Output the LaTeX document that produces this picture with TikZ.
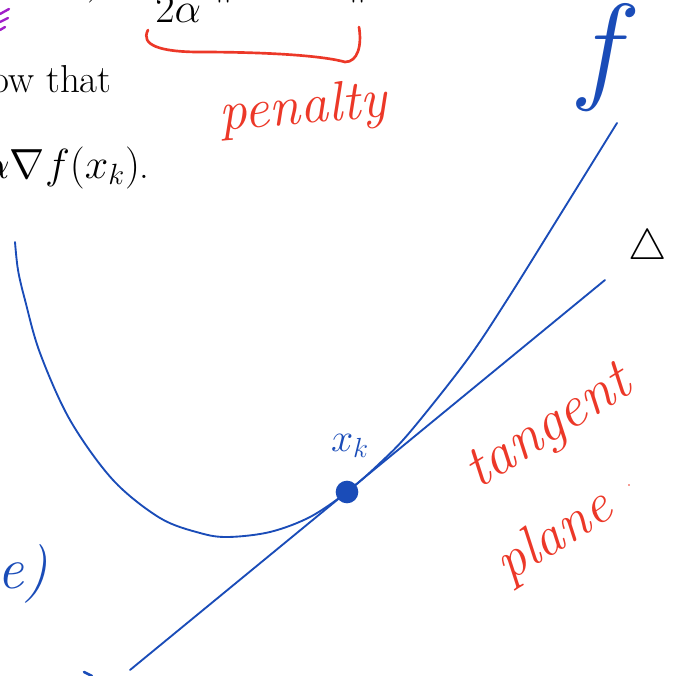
\documentclass[tikz,border=0pt]{standalone}
\usepackage{amsmath}
\definecolor{inkblue}{RGB}{26,76,184}
\definecolor{inkred}{RGB}{236,56,40}
\definecolor{inkpurple}{RGB}{160,30,200}
\tikzset{
  printed/.style={text=black, inner sep=0pt, font=\fontsize{23}{28}\selectfont, scale=1.27},
  bluepen/.style={draw=inkblue, line width=1.4pt, line cap=round, line join=round},
  redpen/.style={draw=inkred, line width=2pt, line cap=round, line join=round},
  redhand/.style={text=inkred, inner sep=0pt, font=\fontsize{40}{46}\selectfont\itshape},
  bluehand/.style={text=inkblue, inner sep=0pt},
}
\begin{document}
\begin{tikzpicture}[x=0.75pt,y=-0.75pt]
\useasboundingbox (0,0) rectangle (675,676);
\begin{scope}
\clip (0,0) rectangle (675,676);
% printed text
\node[printed, anchor=base west] (den) at (155,22) {$2\alpha$};
\node[printed, anchor=base west] (bars1) at (213,-8) {$\|$};
\node[printed, anchor=base west] (bars2) at (330,-8) {$_k\|$};
\node[printed, anchor=base west] (top) at (70,-8) {$_k) +$};
\node[printed, anchor=base east] (show) at (112,92) {show that};
\node[printed, anchor=base east] (upd) at (150,178) {$x_{k+1}=x_k-\alpha\nabla f(x_k)$.};
\node[text=black, inner sep=0pt, font=\fontsize{23}{28}\selectfont, scale=1.3] (tri) at (648,249) {$\triangle$};
% purple marks
\draw[draw=inkpurple, line width=1.8pt, line cap=round] (0,14) -- (9,9) (0,22) -- (8,18) (0,30) -- (5,27);
% red brace
\draw[redpen] (148,30) .. controls (140,45) and (160,52) .. (200,52)
  .. controls (260,52) and (320,55) .. (345,62)
  .. controls (358,62) and (362,45) .. (359,27);
% handwritten labels
\node[redhand, rotate=5, font=\fontsize{42}{48}\selectfont\itshape] (pen) at (303,110) {penalty};
\node[redhand, rotate=32, font=\fontsize{44}{50}\selectfont\itshape] (tan) at (550,430) {tangent};
\node[redhand, rotate=32, font=\fontsize{42}{48}\selectfont\itshape] (pla) at (555,537) {plane};
\fill[inkred] (629,485) circle (0.8);
\node[bluehand, font=\fontsize{23}{28}\selectfont, scale=1.2] (xk) at (350,446) {$x_k$};
\node[bluehand, font=\fontsize{23}{28}\selectfont, scale=3.6] (f) at (606,58) {$f$};
\node[bluehand, font=\fontsize{44}{50}\selectfont\itshape, anchor=east] (ep) at (48,574) {e)};
% curve
\draw[bluepen] plot[smooth, tension=0.55] coordinates {(15,242) (18,270) (25,300) (40,353) (70,420) (113,480) (160,518) (200,533) (228,537) (270,532) (310,517) (347,492) (380,463) (410,432) (467,360) (507,300) (560,215) (617,123)};
% tangent line
\coordinate (tl1) at (130,670);
\coordinate (tl2) at (605,280);
\draw[bluepen] (tl1) -- (tl2);
% point
\node[circle, fill=inkblue, minimum size=17pt, inner sep=0pt] (pt) at (347,492) {};
% small blue stroke at bottom
\draw[bluepen, line width=2pt] (84,672) -- (92,676);
\end{scope}
\end{tikzpicture}
\end{document}
